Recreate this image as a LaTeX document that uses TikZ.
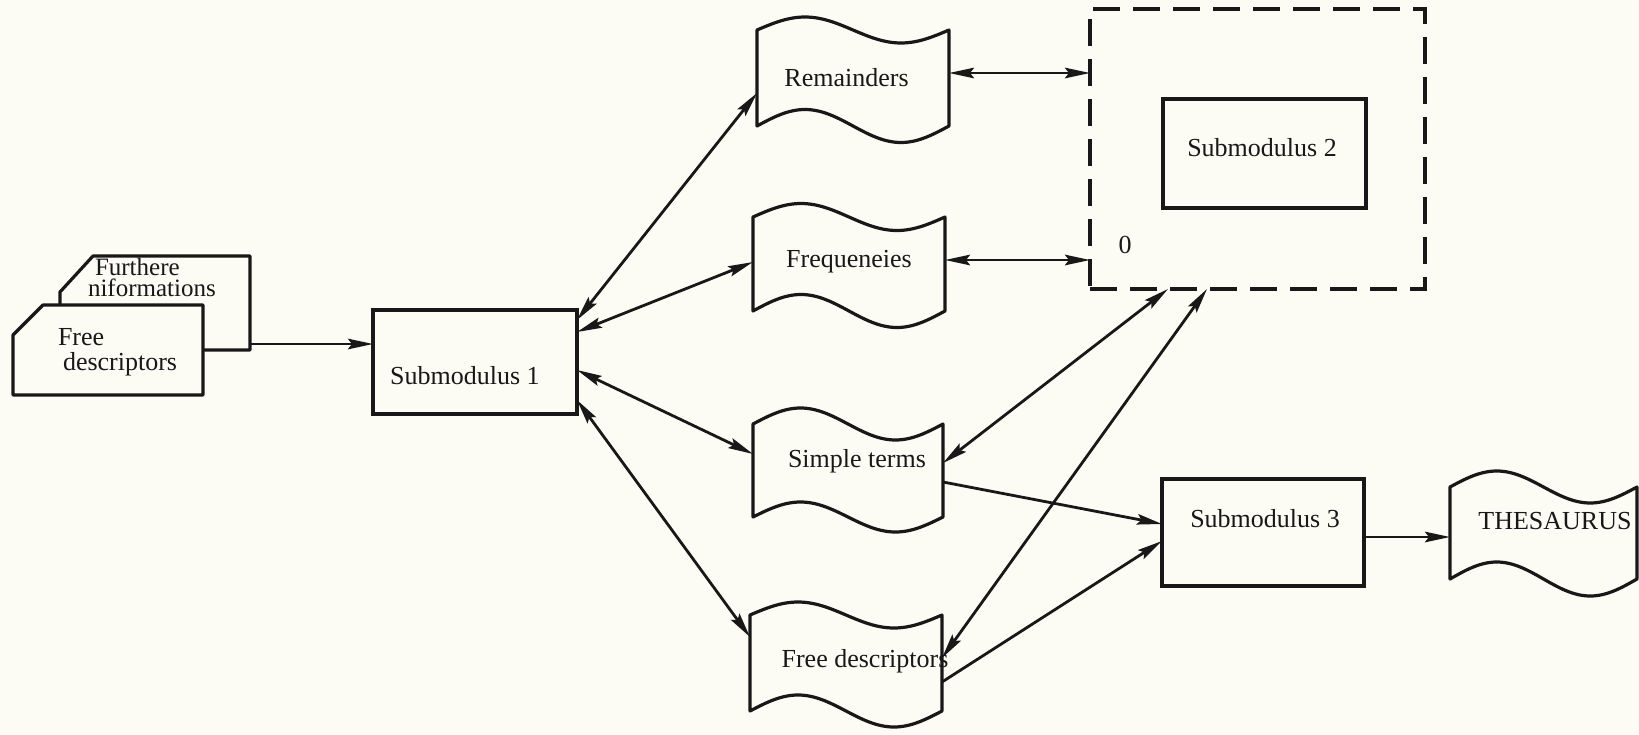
\documentclass[tikz,border=0pt]{standalone}
\usepackage{fontspec}
\setmainfont{Liberation Serif}
\usetikzlibrary{arrows.meta,calc}

\definecolor{ink}{RGB}{24,24,24}
\definecolor{paper}{RGB}{252,252,245}

% text shifted sideways by #1 inside a zero-width box
\newcommand\offtext[2]{\makebox[0pt]{\hspace*{#1}\hspace*{#1}#2}}

% punched-tape outline around a node: node, quarter width, top and bottom wave amplitude
\newcommand\tapeoutline[4]{%
  \draw[outline] (#1.north west) sin ++(#2,-#3) cos ++(#2,#3) sin ++(#2,#3) cos ++(#2,-#3)
    -- (#1.south east) sin ++(-#2,#4) cos ++(-#2,-#4) sin ++(-#2,-#4) cos ++(-#2,#4) -- cycle;}

% punched-card outline with the top left corner cut off: node, cut width, cut height
\newcommand\cardoutline[3]{%
  \draw[outline,fill=paper] ($(#1.north west)+(#2,0)$) -- (#1.north east) -- (#1.south east)
    -- (#1.south west) -- ($(#1.north west)+(0,#3)$) -- cycle;}

\begin{document}
\begin{tikzpicture}[x=1pt,y=-1pt,
  font=\fontsize{26pt}{30pt}\selectfont,
  outline/.style={draw=ink,line width=3.2pt,line join=round},
  link/.style={draw=ink,line width=2.8pt},
  >={Stealth[length=25pt,width=10.5pt,inset=4pt]},
  holder/.style={inner sep=0pt,outer sep=0pt,text=ink},
  cardline/.style={holder,anchor=base west,font=\fontsize{25pt}{28pt}\selectfont},
  box/.style={holder,draw=ink,line width=3.2pt},
  dashedbox/.style={holder,draw=ink,line width=3.2pt,dash pattern=on 27pt off 13pt}]

\fill[paper] (0,0) rectangle (1639,734);
\useasboundingbox (0,0) rectangle (1639,734);

% input cards
\node[holder,minimum width=190pt,minimum height=94pt] (card2) at (155,303) {};
\cardoutline{card2}{33}{36}
\node[cardline] (card2a) at (95,275) {Furthere};
\node[cardline] (card2b) at (88,296) {niformations};
\node[holder,minimum width=190pt,minimum height=90pt] (card1) at (108,350) {};
\cardoutline{card1}{30}{30}
\node[holder,anchor=base west] (card1a) at (58,345) {Free};
\node[holder,anchor=base west] (card1b) at (63,370) {descriptors};

% processing modules
\node[box,minimum width=204pt,minimum height=104pt,text height=44pt,text depth=0pt]
  (sub1) at (475,362) {\offtext{-10pt}{Submodulus 1}};
\node[dashedbox,minimum width=335pt,minimum height=280pt] (dbox) at (1257.5,149) {};
\node[box,minimum width=203pt,minimum height=109pt,text height=5pt,text depth=0pt]
  (sub2) at (1264.5,153.5) {\offtext{-2.5pt}{Submodulus 2}};
\node[holder,anchor=base] (zero) at (1125,253) {0};
\node[box,minimum width=202pt,minimum height=107pt,text height=0pt,text depth=11pt]
  (sub3) at (1263,532.5) {\offtext{2pt}{Submodulus 3}};

% intermediate files on tape
\node[holder,minimum width=192pt,minimum height=96pt,text height=16pt,text depth=0pt]
  (rem) at (853,78) {\offtext{-6.5pt}{Remainders}};
\tapeoutline{rem}{48}{13}{16.5}
\node[holder,minimum width=192pt,minimum height=94pt,text height=6pt,text depth=0pt]
  (freq) at (849,264) {\offtext{0pt}{Frequeneies}};
\tapeoutline{freq}{48}{13.5}{16.5}
\node[holder,minimum width=190pt,minimum height=93pt,text height=0pt,text depth=7pt]
  (simp) at (848,470.5) {\offtext{9pt}{Simple terms}};
\tapeoutline{simp}{47.5}{16}{15}
\node[holder,minimum width=192pt,minimum height=96pt,text height=8pt,text depth=0pt]
  (fd) at (846,663) {\offtext{19pt}{Free descriptors}};
\tapeoutline{fd}{48}{13}{16}
\node[holder,minimum width=187pt,minimum height=92pt,text height=0pt,text depth=8pt]
  (thes) at (1543.5,533) {\offtext{11.5pt}{THESAURUS}};
\tapeoutline{thes}{46.75}{16}{17}

% connectors
\draw[link,->] ($(card2.north east)+(0,88)$) -- ($(sub1.north west)+(0,34)$);
\draw[link,<->] ($(sub1.north east)+(0,10)$) -- ($(rem.north west)+(0,63)$);
\draw[link,<->] ($(sub1.north east)+(0,22)$) -- ($(freq.north west)+(0,45)$);
\draw[link,<->] ($(sub1.north east)+(0,60)$) -- ($(simp.north west)+(0,30)$);
\draw[link,<->] ($(sub1.north east)+(0,90)$) -- ($(fd.north west)+(0,22)$);
\draw[link,<->] ($(rem.north east)+(0,43)$) -- ($(dbox.north west)+(0,64)$);
\draw[link,<->] ($(freq.north east)+(0,43)$) -- ($(dbox.north west)+(0,251)$);
\draw[link,<->] ($(simp.north east)+(0,39)$) -- ($(dbox.south west)+(78,0)$);
\draw[link,<->] ($(fd.north east)+(0,43)$) -- ($(dbox.south west)+(117,0)$);
\draw[link,->] ($(simp.north east)+(0,58)$) -- ($(sub3.north west)+(0,45)$);
\draw[link,->] ($(fd.north east)+(0,67)$) -- ($(sub3.north west)+(0,62)$);
\draw[link,->] ($(sub3.north east)+(0,58)$) -- ($(thes.north west)+(0,50)$);
\end{tikzpicture}
\end{document}
